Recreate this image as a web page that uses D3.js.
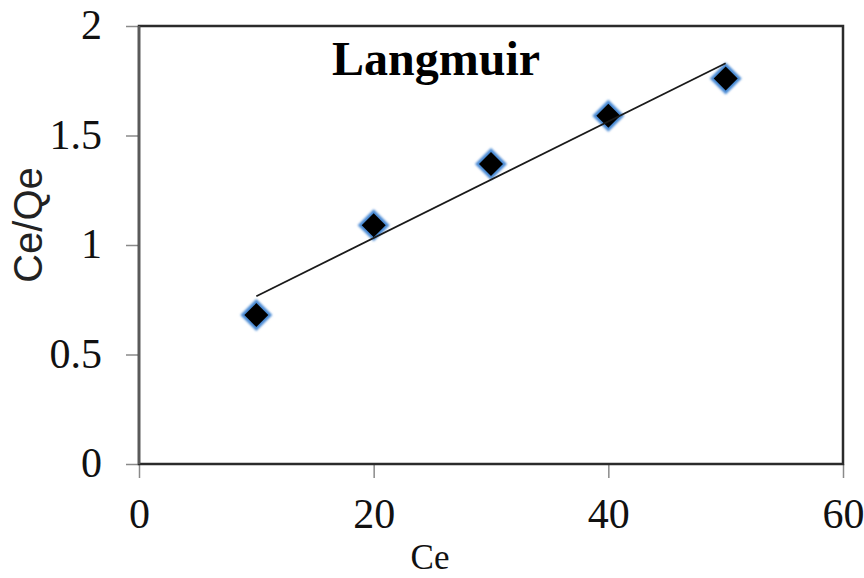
<!DOCTYPE html>
<html>
<head>
<meta charset="utf-8">
<script src="https://cdn.jsdelivr.net/npm/d3@7"></script>
<style>
  html, body { margin: 0; padding: 0; background: #fff; }
  svg { display: block; }
</style>
</head>
<body>
<svg id="chart" width="864" height="578"></svg>
<script>
// Langmuir isotherm: Ce vs Ce/Qe
const ceValues = [10, 20, 30, 40, 50];
const ceQeValues = [0.68, 1.09, 1.37, 1.59, 1.76];
const xTicks = [0, 20, 40, 60];
const yTicks = [0, 0.5, 1, 1.5, 2];
const titleText = "Langmuir";
const xTitle = "Ce";
const yTitle = "Ce/Qe";

const svg = d3.select("#chart");
const plot = { left: 139, right: 843, top: 26, bottom: 464 };

const x = d3.scaleLinear().domain([0, 60]).range([plot.left, plot.right]);
const y = d3.scaleLinear().domain([0, 2]).range([plot.bottom, plot.top]);

// Least-squares fit of the points
const n = ceValues.length;
const mx = d3.mean(ceValues), my = d3.mean(ceQeValues);
let sxy = 0, sxx = 0;
for (let i = 0; i < n; i++) {
  sxy += (ceValues[i] - mx) * (ceQeValues[i] - my);
  sxx += (ceValues[i] - mx) ** 2;
}
const slope = sxy / sxx;
const intercept = my - slope * mx;

const serif = "'Liberation Serif', 'Times New Roman', serif";

// Axes
const xAxis = d3.axisBottom(x).tickValues(xTicks).tickSize(14).tickPadding(20).tickFormat(d3.format("d"));
const yAxis = d3.axisLeft(y).tickValues(yTicks).tickSize(13).tickPadding(24).tickFormat(d => String(d));

const gx = svg.append("g").attr("transform", `translate(0,${plot.bottom})`).call(xAxis);
const gy = svg.append("g").attr("transform", `translate(${plot.left},0)`).call(yAxis);

[gx, gy].forEach(g => {
  g.select(".domain").remove();
  g.selectAll(".tick line").attr("stroke", "#8a8a8a").attr("stroke-width", 1.5);
  g.selectAll(".tick text")
    .attr("fill", "#111")
    .style("font-family", serif)
    .style("font-size", "42px");
});
gx.selectAll(".tick text").attr("dy", "0.71em");
gy.selectAll(".tick text").attr("dy", "0.30em");

// Frame
svg.append("rect")
  .attr("x", plot.left).attr("y", plot.top)
  .attr("width", plot.right - plot.left).attr("height", plot.bottom - plot.top)
  .attr("fill", "none").attr("stroke", "#2b2b2b").attr("stroke-width", 2.5);
svg.append("line")
  .attr("x1", plot.left).attr("x2", plot.left).attr("y1", plot.top).attr("y2", plot.bottom)
  .attr("stroke", "#5a5a5a").attr("stroke-width", 2.5);

// Markers
const defs = svg.append("defs");
defs.append("filter").attr("id", "soft").attr("x", "-50%").attr("y", "-50%").attr("width", "200%").attr("height", "200%")
  .append("feGaussianBlur").attr("stdDeviation", 1.2);

const diamond = r => `M0,${-r}L${r},0L0,${r}L${-r},0Z`;
const pts = ceValues.map((c, i) => ({ c, v: ceQeValues[i] }));

const gm = svg.append("g");
gm.selectAll("path.halo").data(pts).join("path")
  .attr("class", "halo")
  .attr("transform", d => `translate(${x(d.c)},${y(d.v)})`)
  .attr("d", diamond(16))
  .attr("fill", "#4a8ad4")
  .attr("filter", "url(#soft)");
gm.selectAll("path.core").data(pts).join("path")
  .attr("class", "core")
  .attr("transform", d => `translate(${x(d.c)},${y(d.v)})`)
  .attr("d", diamond(12))
  .attr("fill", "#000");

// Trend line
svg.append("line")
  .attr("x1", x(10)).attr("y1", y(intercept + slope * 10))
  .attr("x2", x(50)).attr("y2", y(intercept + slope * 50))
  .attr("stroke", "#1a1a1a").attr("stroke-width", 1.8);

// Titles
svg.append("text")
  .attr("x", 436).attr("y", 75)
  .attr("text-anchor", "middle")
  .style("font-family", serif).style("font-weight", "bold").style("font-size", "48px")
  .attr("fill", "#000")
  .text(titleText);

svg.append("text")
  .attr("x", 430).attr("y", 569)
  .attr("text-anchor", "middle")
  .style("font-family", serif).style("font-size", "35px")
  .attr("fill", "#111")
  .text(xTitle);

svg.append("text")
  .attr("transform", "translate(42,225) rotate(-90)")
  .attr("text-anchor", "middle")
  .style("font-family", "'Liberation Sans', Arial, sans-serif").style("font-size", "40px")
  .attr("fill", "#222")
  .text(yTitle);
</script>
</body>
</html>
